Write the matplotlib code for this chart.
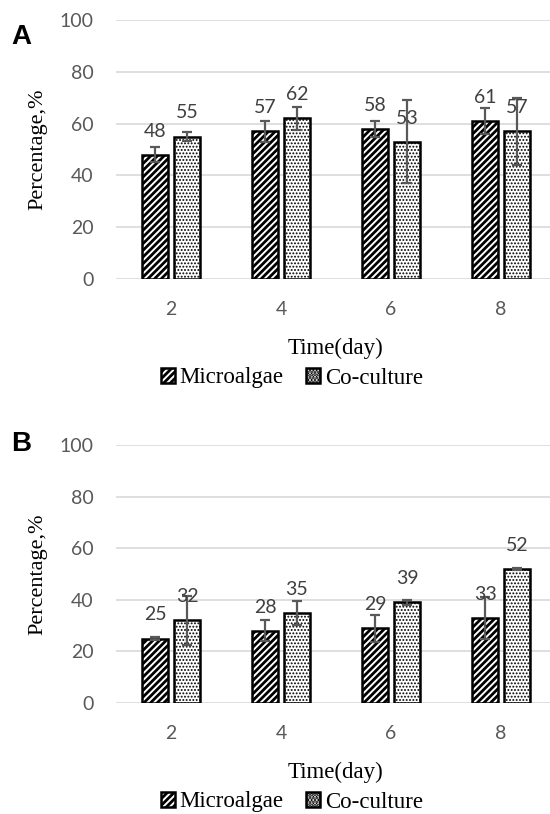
import numpy as np
import matplotlib
matplotlib.use("Agg")
import matplotlib.pyplot as plt

plt.rcParams['hatch.linewidth'] = 2.0

days = ['2', '4', '6', '8']
series_names = ['Microalgae', 'Co-culture']

# panel A
micro_a = [48, 57, 58, 61]
micro_a_err = [2.8, 4.0, 3.0, 5.0]
co_a = [55, 62, 53, 57]
co_a_err = [1.7, 4.5, 16.0, 13.0]

# panel B
micro_b = [25, 28, 29, 33]
micro_b_err = [0.5, 4.0, 5.3, 8.0]
co_b = [32, 35, 39, 52]
co_b_err = [9.5, 4.7, 1.0, 0.4]

W, H = 550, 814
fig = plt.figure(figsize=(W / 100, H / 100), dpi=100)

tick_font = 'Lato'
serif_font = 'Liberation Serif'
gray = '#595959'
bw = 0.236
off = 0.145


def fy(py):
    return 1 - py / H


def draw_panel(ax, micro, micro_err, co, co_err):
    x = np.arange(len(days))
    b1 = ax.bar(x - off, micro, bw, color='white', edgecolor='black',
                linewidth=1.8, hatch='/////', zorder=2, label=series_names[0])
    b2 = ax.bar(x + off, co, bw, color='white', edgecolor='black',
                linewidth=1.8, hatch='.....', zorder=2, label=series_names[1])
    for r in b2:
        if hasattr(r, 'set_hatch_linewidth'):
            r.set_hatch_linewidth(0.9)
    ax.errorbar(x - off, micro, yerr=micro_err, fmt='none', ecolor=gray,
                elinewidth=1.6, capsize=3.3, capthick=1.6, zorder=3)
    ax.errorbar(x + off, co, yerr=co_err, fmt='none', ecolor=gray,
                elinewidth=1.6, capsize=3.3, capthick=1.6, zorder=3)
    for bars in (b1, b2):
        for r in bars:
            ax.annotate('%d' % round(r.get_height()),
                        (r.get_x() + r.get_width() / 2, r.get_height()),
                        xytext=(0, 13), textcoords='offset points',
                        ha='center', va='baseline', fontsize=14,
                        family=tick_font, color='#404040', zorder=4)
    ax.set_ylim(0, 100)
    ax.set_yticks(range(0, 101, 20))
    ax.set_xlim(-0.5, 3.445)
    ax.set_xticks(x)
    ax.set_xticklabels(days)
    ax.grid(axis='y', color='#d9d9d9', linewidth=1.2, zorder=0)
    ax.set_axisbelow(True)
    for s in ax.spines.values():
        s.set_visible(False)
    ax.tick_params(length=0, labelsize=14, labelcolor=gray)
    ax.tick_params(axis='y', pad=16)
    ax.tick_params(axis='x', pad=16)
    for lab in ax.get_xticklabels() + ax.get_yticklabels():
        lab.set_family(tick_font)
    return b1, b2


panels = [
    ('A', 20, 279, micro_a, micro_a_err, co_a, co_a_err, 348, 378, 37),
    ('B', 445, 703, micro_b, micro_b_err, co_b, co_b_err, 772, 802, 444),
]

for letter, top, bot, mi, mie, co, coe, xl_y, leg_y, let_y in panels:
    ax = fig.add_axes([116 / W, fy(bot), 1 - 116 / W, (bot - top) / H])
    bars = draw_panel(ax, mi, mie, co, coe)
    fig.text(38 / W, fy((top + bot) / 2), 'Percentage,%', rotation=90,
             ha='center', va='center', family=serif_font, fontsize=16)
    fig.text(336 / W, fy(xl_y), 'Time(day)', ha='center', va='center',
             family=serif_font, fontsize=16.5)
    fig.text(21 / W, fy(let_y), letter, ha='center', va='center',
             family='Liberation Sans', fontweight='bold', fontsize=20)
    fig.legend(bars, series_names, loc='center',
               bbox_to_anchor=(292 / W, fy(leg_y)), ncol=2, frameon=False,
               prop={'family': serif_font, 'size': 16.5},
               handlelength=0.6, handleheight=0.6, handletextpad=0.2,
               columnspacing=1.0, borderaxespad=0, borderpad=0)

fig.savefig('out.png', dpi=100)
